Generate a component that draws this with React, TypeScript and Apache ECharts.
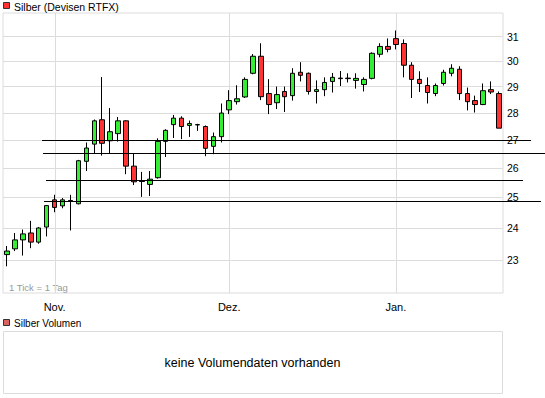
import React, { useEffect, useRef } from "react";
import * as echarts from "echarts";

// one candle per trading day: [open, close, low, high]
const ohlc: [number, number, number, number][] = [
  [23.16, 23.27, 22.8, 23.43],
  [23.34, 23.62, 23.27, 23.84],
  [23.62, 23.81, 23.13, 23.95],
  [23.84, 23.55, 23.36, 24.23],
  [23.55, 24.0, 23.5, 24.03],
  [24.03, 24.73, 23.73, 24.75],
  [24.92, 24.67, 24.51, 25.09],
  [24.72, 24.92, 24.64, 24.98],
  [24.9, 24.88, 23.92, 25.09],
  [24.79, 26.26, 24.77, 26.29],
  [26.24, 26.71, 25.9, 26.91],
  [26.85, 27.7, 26.51, 27.75],
  [27.74, 26.88, 26.44, 29.37],
  [26.97, 27.3, 26.52, 28.18],
  [27.23, 27.7, 26.94, 27.84],
  [27.7, 26.07, 25.79, 27.72],
  [26.07, 25.53, 25.42, 26.5],
  [25.56, 25.54, 25.02, 25.87],
  [25.44, 25.62, 25.05, 25.9],
  [25.67, 26.95, 25.64, 27.06],
  [26.95, 27.35, 26.39, 27.39],
  [27.56, 27.8, 27.07, 27.92],
  [27.8, 27.49, 27.03, 27.87],
  [27.53, 27.6, 27.11, 27.71],
  [27.56, 27.55, 27.33, 27.59],
  [27.49, 26.7, 26.42, 27.53],
  [26.77, 27.12, 26.49, 27.27],
  [27.12, 27.99, 26.91, 28.35],
  [28.11, 28.46, 27.95, 28.86],
  [28.42, 28.53, 28.31, 29.05],
  [28.6, 29.28, 28.56, 29.36],
  [29.52, 30.2, 29.48, 30.29],
  [30.2, 28.61, 28.48, 30.73],
  [28.73, 28.31, 27.95, 29.29],
  [28.38, 28.69, 28.14, 29.0],
  [28.81, 28.61, 28.03, 29.0],
  [28.65, 29.52, 28.46, 29.72],
  [29.56, 29.44, 29.2, 29.96],
  [29.52, 28.81, 28.69, 29.55],
  [28.81, 28.88, 28.35, 29.24],
  [28.88, 29.16, 28.63, 29.36],
  [29.2, 29.36, 28.77, 29.53],
  [29.33, 29.31, 29.02, 29.61],
  [29.33, 29.31, 29.16, 29.52],
  [29.24, 29.32, 28.92, 29.52],
  [29.08, 29.28, 28.81, 29.36],
  [29.32, 30.32, 29.28, 30.36],
  [30.28, 30.6, 30.16, 30.73],
  [30.6, 30.48, 30.36, 30.93],
  [30.92, 30.68, 30.48, 31.26],
  [30.72, 29.84, 29.36, 30.89],
  [29.84, 29.28, 28.56, 29.96],
  [29.28, 29.12, 28.79, 29.6],
  [29.04, 28.77, 28.35, 29.36],
  [28.73, 29.04, 28.63, 29.12],
  [29.12, 29.56, 29.04, 29.66],
  [29.52, 29.72, 29.4, 29.88],
  [29.68, 28.73, 28.48, 29.8],
  [28.73, 28.42, 28.09, 28.96],
  [28.46, 28.31, 28.01, 28.65],
  [28.31, 28.84, 28.29, 29.12],
  [28.88, 28.79, 28.71, 29.2],
  [28.73, 27.43, 27.43, 28.81],
];

const categories: string[] = ohlc.map((_, i) => "d" + i);
const monthLabels = ["Nov.", "Dez.", "Jan."];
const monthIdx = [6, 28, 49];
const yTicks = [23, 24, 25, 26, 27, 28, 29, 30, 31];
const supportLevels = [27.0, 26.52, 25.58, 24.87];
const supportSpans: [number, number][] = [
  [42, 531],
  [43, 545],
  [46, 523],
  [44, 541],
];

const FONT = "'Liberation Sans', Arial, sans-serif";
const GRID = { left: 3, top: 13, right: 42, bottom: 105 };

export default function App() {
  const ref = useRef<HTMLDivElement>(null);

  useEffect(() => {
    if (!ref.current) return;
    const chart = echarts.init(ref.current, undefined, { renderer: "svg" });
    chart.setOption({
      animation: false,
      textStyle: { fontFamily: FONT },
      grid: {
        ...GRID,
        show: true,
        borderColor: "#dcdcdc",
        borderWidth: 1,
        backgroundColor: "transparent",
      },
      xAxis: {
        type: "category",
        data: categories,
        boundaryGap: true,
        axisLine: { show: false },
        axisTick: { show: false },
        splitLine: { show: false },
        axisLabel: {
          interval: (i: number) => monthIdx.includes(i),
          formatter: (v: string) => {
            const k = monthIdx.indexOf(categories.indexOf(v));
            return k >= 0 ? monthLabels[k] : "";
          },
          color: "#000",
          fontSize: 11,
          fontFamily: FONT,
          margin: 8,
        },
      },
      yAxis: {
        type: "log",
        logBase: 10,
        min: 22,
        max: 32,
        position: "right",
        axisLine: { show: false },
        axisTick: { show: false },
        axisLabel: { show: false },
        splitLine: { show: false },
      },
      series: [
        {
          type: "candlestick",
          data: ohlc,
          barWidth: 5,
          z: 2,
          itemStyle: {
            color: "#33ee33",
            color0: "#ff3333",
            borderColor: "#000",
            borderColor0: "#000",
            borderWidth: 1,
          },
          markLine: {
            silent: true,
            z: 1,
            symbol: ["none", "none"],
            animation: false,
            lineStyle: { color: "#dcdcdc", type: "solid", width: 1 },
            label: {
              show: true,
              position: "end",
              formatter: "{b}",
              color: "#000",
              fontSize: 10.5,
              fontFamily: FONT,
              distance: 4,
            },
            emphasis: { disabled: true },
            data: yTicks.map((v) => ({ name: String(v), yAxis: v })),
          },
        },
      ],
    });

    const gridTop = GRID.top;
    const gridBottom = 398 - GRID.bottom;

    const monthLines = monthIdx.map((idx) => {
      const x = Math.round(chart.convertToPixel({ xAxisIndex: 0 }, idx) as number) + 0.5;
      return {
        type: "line",
        z: 1,
        silent: true,
        shape: { x1: x, y1: gridTop, x2: x, y2: gridBottom },
        style: { stroke: "#dcdcdc", lineWidth: 1 },
      };
    });

    const lines = supportLevels.map((lv, i) => {
      const y = Math.round(chart.convertToPixel({ yAxisIndex: 0 }, lv) as number) + 0.5;
      return {
        type: "line",
        z: 100,
        silent: true,
        shape: { x1: supportSpans[i][0], y1: y, x2: supportSpans[i][1], y2: y },
        style: { stroke: "#000", lineWidth: 1 },
      };
    });

    chart.setOption({
      graphic: [
        ...monthLines,
        {
          type: "rect",
          shape: { x: 3.5, y: 2.5, width: 6, height: 6 },
          style: { fill: "#ff3333", stroke: "#333", lineWidth: 1 },
        },
        {
          type: "text",
          x: 14,
          y: 7,
          style: {
            text: "Silber (Devisen RTFX)",
            fill: "#000",
            font: `10.5px ${FONT}`,
            verticalAlign: "middle",
          },
        },
        {
          type: "text",
          x: 9,
          y: 287,
          style: {
            text: "1 Tick = 1 Tag",
            fill: "#999",
            font: `9.5px ${FONT}`,
            verticalAlign: "middle",
          },
        },
        {
          type: "rect",
          shape: { x: 3.5, y: 319.5, width: 6, height: 6 },
          style: { fill: "#d9645f", stroke: "#333", lineWidth: 1 },
        },
        {
          type: "text",
          x: 14,
          y: 323,
          style: {
            text: "Silber Volumen",
            fill: "#000",
            font: `10px ${FONT}`,
            verticalAlign: "middle",
          },
        },
        {
          type: "rect",
          shape: { x: 3.5, y: 331.5, width: 499, height: 62 },
          style: { fill: "none", stroke: "#dcdcdc", lineWidth: 1 },
        },
        {
          type: "text",
          x: 252.5,
          y: 362.5,
          style: {
            text: "keine Volumendaten vorhanden",
            fill: "#000",
            font: `12.5px ${FONT}`,
            align: "center",
            verticalAlign: "middle",
          },
        },
        ...lines,
      ],
    });

    return () => chart.dispose();
  }, []);

  return (
    <div
      ref={ref}
      style={{ position: "fixed", left: 0, top: 0, width: 545, height: 398, background: "#fff" }}
    />
  );
}
